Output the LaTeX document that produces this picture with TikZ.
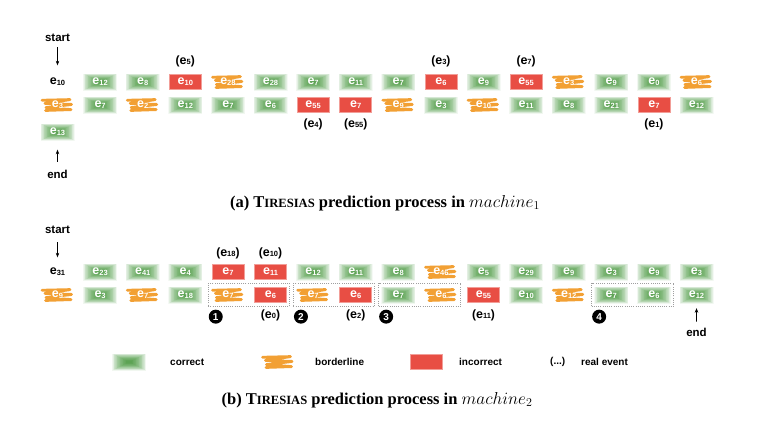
\documentclass[tikz,border=0pt]{standalone}
\usepackage{fontspec}
\newfontfamily\hv{Liberation Sans}
\newfontfamily\capf{Liberation Serif}
\usetikzlibrary{fit,arrows.meta}
\definecolor{gcol}{RGB}{45,138,32}
\definecolor{ocol}{RGB}{242,160,52}
\definecolor{rcol}{RGB}{232,78,68}
\newcommand\evt[1]{{\fontsize{12.5}{12.5}\selectfont e}\raisebox{-0.8pt}{\fontsize{7.5}{7.5}\selectfont #1}}
\newcommand\cell[5]{\node[#2, label={[evlab]center:\evt{#5}}] (#1) at ({57.5+42.6*#3},#4) {};}
\newcommand\lbl[4]{\node[lab] (#1) at ({57.5+42.6*#2},#3) {(\evt{#4})};}
\tikzset{
  base/.style={font=\hv\bfseries, text=white, inner sep=0pt, minimum width=34pt, minimum height=17pt},
  evlab/.style={font=\hv\bfseries, text=white, inner sep=0pt},
  good/.style={base, path picture={\foreach \k in {0,...,19}{\fill[gcol,opacity=.068] ([shift={(\k*0.75pt,-\k*0.38pt)}]path picture bounding box.north west) rectangle ([shift={(-\k*0.75pt,\k*0.38pt)}]path picture bounding box.south east);}}},
  bad/.style={base, fill=rcol, draw=rcol!55!white, line width=0.5pt, minimum width=32pt, minimum height=15pt},
  bord/.style={base, path picture={\draw[ocol, line width=2.7pt, line cap=round, line join=round, rounded corners=1.5pt, shift={(path picture bounding box.center)}] (-15.5,-4.8) -- (14,-5.5) -- (-14,-1.6) -- (15.5,-0.6) -- (-13,2.6) -- (15,4.6) -- (-12,5.5);}},
  plainev/.style={base, text=black},
  lab/.style={font=\hv\bfseries\fontsize{12}{12}\selectfont, text=black, inner sep=0pt},
  word/.style={font=\hv\bfseries\fontsize{11.5}{11.5}\selectfont, text=black, inner sep=1pt},
  legtxt/.style={font=\hv\bfseries\fontsize{10}{10}\selectfont, text=black, inner sep=0pt, anchor=west},
  arr/.style={-{Stealth[length=4.5pt,width=3.5pt]}, line width=0.6pt},
  dotbox/.style={draw=gray!75, dash pattern=on 0.9pt off 1.3pt, line width=0.9pt, inner xsep=2.5pt, inner ysep=3pt},
  num/.style={circle, fill=black, text=white, font=\hv\bfseries\fontsize{10}{10}\selectfont, inner sep=0pt, minimum size=14pt},
  captxt/.style={font=\capf\bfseries\fontsize{16.5}{18}\selectfont, text=black, inner sep=0pt}
}
\begin{document}
\begin{tikzpicture}[x=1pt,y=-1pt]
\useasboundingbox[fill=white] (0,0) rectangle (768,426);
% ---------------- part (a)
\node[word] (sa) at (57.5,38) {start};
\node[plainev] (a1-0) at (57.5,82) {\evt{10}};
\cell{a1-1}{good}{1}{82}{12}
\cell{a1-2}{good}{2}{82}{8}
\cell{a1-3}{bad}{3}{82}{10}
\cell{a1-4}{bord}{4}{82}{28}
\cell{a1-5}{good}{5}{82}{28}
\cell{a1-6}{good}{6}{82}{7}
\cell{a1-7}{good}{7}{82}{11}
\cell{a1-8}{good}{8}{82}{7}
\cell{a1-9}{bad}{9}{82}{6}
\cell{a1-10}{good}{10}{82}{9}
\cell{a1-11}{bad}{11}{82}{55}
\cell{a1-12}{bord}{12}{82}{3}
\cell{a1-13}{good}{13}{82}{9}
\cell{a1-14}{good}{14}{82}{0}
\cell{a1-15}{bord}{15}{82}{6}
\cell{a2-0}{bord}{0}{105}{3}
\cell{a2-1}{good}{1}{105}{7}
\cell{a2-2}{bord}{2}{105}{2}
\cell{a2-3}{good}{3}{105}{12}
\cell{a2-4}{good}{4}{105}{7}
\cell{a2-5}{good}{5}{105}{6}
\cell{a2-6}{bad}{6}{105}{55}
\cell{a2-7}{bad}{7}{105}{7}
\cell{a2-8}{bord}{8}{105}{9}
\cell{a2-9}{good}{9}{105}{3}
\cell{a2-10}{bord}{10}{105}{10}
\cell{a2-11}{good}{11}{105}{11}
\cell{a2-12}{good}{12}{105}{8}
\cell{a2-13}{good}{13}{105}{21}
\cell{a2-14}{bad}{14}{105}{7}
\cell{a2-15}{good}{15}{105}{12}
\cell{a3-0}{good}{0}{132}{13}
\node[word] (ea) at (57.5,174) {end};
\lbl{la1}{3}{61}{5}
\lbl{la2}{9}{61}{3}
\lbl{la3}{11}{61}{7}
\lbl{la4}{6}{124}{4}
\lbl{la5}{7}{124}{55}
\lbl{la6}{14}{124}{1}
\draw[arr, shorten <=4pt, shorten >=8pt] (sa) -- (a1-0);
\draw[arr, shorten <=7pt, shorten >=9pt] (ea) -- (a3-0);
\node[captxt] (capa) at (385,203) {(a) T{\fontsize{12.6}{14}\selectfont IRESIAS} prediction process in \mdseries$machine_1$};
% ---------------- part (b)
\node[word] (sb) at (57.5,230) {start};
\node[plainev] (b1-0) at (57.5,272) {\evt{31}};
\cell{b1-1}{good}{1}{272}{23}
\cell{b1-2}{good}{2}{272}{41}
\cell{b1-3}{good}{3}{272}{4}
\cell{b1-4}{bad}{4}{272}{7}
\cell{b1-5}{bad}{5}{272}{11}
\cell{b1-6}{good}{6}{272}{12}
\cell{b1-7}{good}{7}{272}{11}
\cell{b1-8}{good}{8}{272}{8}
\cell{b1-9}{bord}{9}{272}{46}
\cell{b1-10}{good}{10}{272}{5}
\cell{b1-11}{good}{11}{272}{29}
\cell{b1-12}{good}{12}{272}{9}
\cell{b1-13}{good}{13}{272}{3}
\cell{b1-14}{good}{14}{272}{9}
\cell{b1-15}{good}{15}{272}{3}
\cell{b2-0}{bord}{0}{295}{9}
\cell{b2-1}{good}{1}{295}{3}
\cell{b2-2}{bord}{2}{295}{7}
\cell{b2-3}{good}{3}{295}{18}
\cell{b2-4}{bord}{4}{295}{7}
\cell{b2-5}{bad}{5}{295}{6}
\cell{b2-6}{bord}{6}{295}{7}
\cell{b2-7}{bad}{7}{295}{6}
\cell{b2-8}{good}{8}{295}{7}
\cell{b2-9}{bord}{9}{295}{6}
\cell{b2-10}{bad}{10}{295}{55}
\cell{b2-11}{good}{11}{295}{10}
\cell{b2-12}{bord}{12}{295}{12}
\cell{b2-13}{good}{13}{295}{7}
\cell{b2-14}{good}{14}{295}{6}
\cell{b2-15}{good}{15}{295}{12}
\node[word] (eb) at (696.5,332) {end};
\lbl{lb1}{4}{253}{18}
\lbl{lb2}{5}{253}{10}
\lbl{lb3}{5}{315}{0}
\lbl{lb4}{7}{315}{2}
\lbl{lb5}{10}{315}{11}
\draw[arr, shorten <=7pt, shorten >=6pt] (sb) -- (b1-0);
\draw[arr, shorten <=5pt, shorten >=4.5pt] (eb) -- (b2-15);
\node[dotbox, fit=(b2-4)(b2-5)] (bx1) {};
\node[dotbox, fit=(b2-6)(b2-7)] (bx2) {};
\node[dotbox, fit=(b2-8)(b2-9)] (bx3) {};
\node[dotbox, fit=(b2-13)(b2-14)] (bx4) {};
\node[num] (n1) at ([shift={(8pt,-9.5pt)}]bx1.south west) {1};
\node[num] (n2) at ([shift={(8pt,-9.5pt)}]bx2.south west) {2};
\node[num] (n3) at ([shift={(8pt,-9.5pt)}]bx3.south west) {3};
\node[num] (n4) at ([shift={(8pt,-9.5pt)}]bx4.south west) {4};
% legend
\node[good] (lg) at (129,362) {};
\node[legtxt] (lgt) at (170,362) {correct};
\node[bord] (lo) at (278,362) {};
\node[legtxt] (lot) at (315,362) {borderline};
\node[bad] (lr) at (426,362) {};
\node[legtxt] (lrt) at (459,362) {incorrect};
\node[legtxt] (le) at (550,362) {(...)};
\node[legtxt] (let) at (581,362) {real event};
\node[captxt] (capb) at (377,400) {(b) T{\fontsize{12.6}{14}\selectfont IRESIAS} prediction process in \mdseries$machine_2$};
\end{tikzpicture}
\end{document}
